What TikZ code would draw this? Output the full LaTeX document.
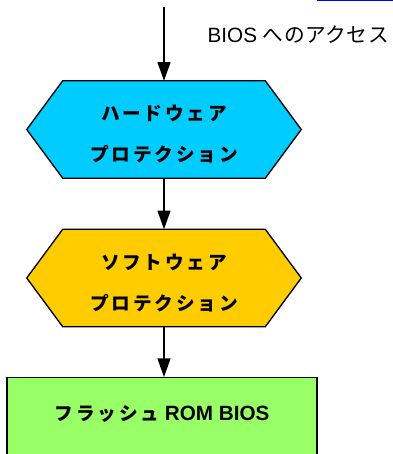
\documentclass[tikz,border=0pt]{standalone}
\usepackage{fontspec}
\setmainfont{Liberation Sans}
\newfontfamily\jp[LetterSpace=15]{Noto Sans CJK JP}
\newfontfamily\jplabel[LetterSpace=3]{Noto Sans CJK JP}
\usetikzlibrary{arrows.meta,calc,backgrounds}
\definecolor{hwblue}{HTML}{00CCFF}
\definecolor{swyellow}{HTML}{FFCC00}
\definecolor{romgreen}{HTML}{99FF66}
\definecolor{linkblue}{HTML}{0000FF}
\newcommand{\hexstrut}{\rule{0pt}{19pt}}
\tikzset{
  hexa/.style={rectangle,inner sep=0pt,minimum width=151.5pt,minimum height=72.75pt,
               align=center,font=\jp\bfseries\fontsize{14}{30.75}\selectfont},
  flow/.style={-{Triangle[length=14pt,width=9.75pt]},line width=1pt},
  romb/.style={rectangle,draw,line width=1pt,fill=romgreen,inner sep=0pt,
               minimum width=232.5pt,minimum height=75pt,text height=10pt,text depth=20.5pt,
               font=\bfseries\fontsize{15.5}{17}\selectfont}}
\begin{document}
\begin{tikzpicture}[x=0.75pt,y=-0.75pt]
  \path[use as bounding box,clip] (0,0) rectangle (393,454);
  \draw[linkblue,line width=1pt] (317,0.7) -- (393,0.7);
  \coordinate (entry) at (164,7);
  \node[anchor=west,font=\fontsize{15.5}{17}\selectfont] (acc) at (203,35)
    {BIOS {\jplabel へのアクセス}};
  \node[hexa] (hw) at (164,129.5){\hexstrut ハードウェア\\プロテクション};
  \node[hexa] (sw) at (164,278){\hexstrut ソフトウェア\\プロテクション};
  \node[romb,anchor=north] (rom) at (162,377){{\jp\fontsize{14}{17}\selectfont フラッシュ} ROM BIOS};
  \begin{scope}[on background layer]
    \foreach \n/\c in {hw/hwblue,sw/swyellow}
      \filldraw[fill=\c,line width=1pt] (\n.north west) -- (\n.north east)
        -- ($(\n.east)+(36,0)$) -- (\n.south east) -- (\n.south west)
        -- ($(\n.west)+(-36,0)$) -- cycle;
  \end{scope}
  \draw[flow] (entry) -- (hw.north);
  \draw[flow] (hw.south) -- (sw.north);
  \draw[flow] (sw.south) -- (sw.south |- rom.north);
\end{tikzpicture}
\end{document}
